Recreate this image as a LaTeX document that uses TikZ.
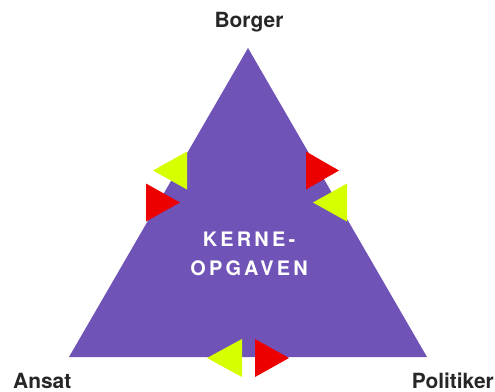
\documentclass[tikz,border=0pt]{standalone}
\usepackage{fontspec}
\setmainfont{TeX Gyre Heros}
\newfontfamily\kernefont[LetterSpace=16]{TeX Gyre Heros}
\usetikzlibrary{positioning}
\definecolor{kernepurple}{RGB}{111,83,182}
\definecolor{limetip}{RGB}{214,255,0}
\definecolor{redtip}{RGB}{236,0,0}
\definecolor{labelgray}{RGB}{38,38,38}
\tikzset{
  corner/.style={font=\bfseries\fontsize{21}{25}\selectfont, text=labelgray, inner sep=0pt},
  core/.style={font=\kernefont\bfseries\fontsize{20}{29}\selectfont, text=white, align=center, inner sep=0pt},
  tipleft/.style={fill=limetip},
  tipright/.style={fill=redtip}
}
% tip: vertical edge at x, middle y, tip offset dx
\newcommand{\drawtip}[4]{\fill[#1] (#2,#3-19) -- (#2,#3+19) -- (#2+#4,#3) -- cycle;}

\begin{document}
\begin{tikzpicture}[x=1bp, y=-1bp]
  \useasboundingbox (0,0) rectangle (495,391);
  \coordinate (top) at (248,48);
  \coordinate (left) at (69,357);
  \coordinate (right) at (427,357);
  \fill[kernepurple] (top) -- (right) -- (left) -- cycle;

  \node[core] (kerne) at (249,254) {KERNE-\\OPGAVEN};
  \node[corner, anchor=base] (borger) at (249,27) {Borger};
  \node[corner, anchor=base west] (ansat) at (13,388) {Ansat};
  \node[corner, anchor=base east] (politiker) at (494,388) {Politiker};

  % left side
  \drawtip{tipleft}{187}{170.5}{-34}
  \drawtip{tipright}{146}{202.5}{34}
  % right side
  \drawtip{tipright}{306}{170.5}{33}
  \drawtip{tipleft}{347}{202.5}{-34}
  % base
  \drawtip{tipleft}{242}{358}{-35}
  \drawtip{tipright}{255}{358}{34}
\end{tikzpicture}
\end{document}
